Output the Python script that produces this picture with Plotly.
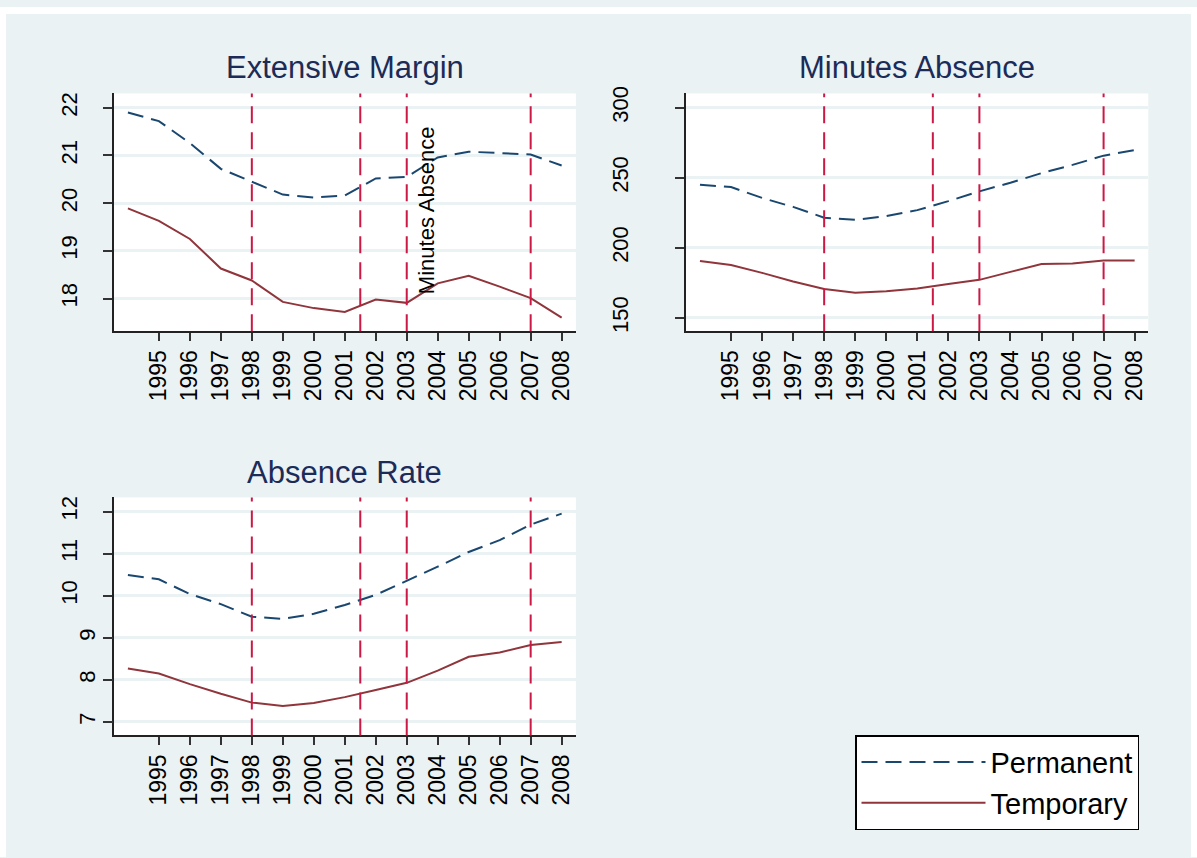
import plotly.graph_objects as go

years = list(range(1994, 2009))

ext_perm = [21.90, 21.72, 21.26, 20.72, 20.45, 20.18, 20.12, 20.16, 20.52, 20.55, 20.96, 21.08, 21.05, 21.02, 20.79]
ext_temp = [19.89, 19.63, 19.25, 18.63, 18.38, 17.93, 17.80, 17.72, 17.98, 17.91, 18.32, 18.48, 18.25, 18.01, 17.60]

min_perm = [245.0, 243.4, 235.6, 229.2, 221.5, 220.0, 222.6, 226.9, 233.3, 240.3, 246.5, 253.3, 259.2, 265.8, 269.8]
min_temp = [190.6, 187.7, 182.1, 175.9, 170.5, 167.9, 168.9, 171.0, 174.1, 177.1, 182.8, 188.4, 188.7, 191.0, 191.0]

rate_perm = [10.49, 10.39, 10.04, 9.80, 9.50, 9.45, 9.57, 9.78, 10.02, 10.35, 10.69, 11.04, 11.32, 11.69, 11.95]
rate_temp = [8.27, 8.15, 7.90, 7.67, 7.46, 7.38, 7.45, 7.59, 7.76, 7.93, 8.22, 8.55, 8.65, 8.83, 8.90]

event_years = [1998, 2001.5, 2003, 2007]
xtick_years = list(range(1995, 2009))
titles = ["Extensive Margin", "Minutes Absence", "Absence Rate"]
yticks = [[18, 19, 20, 21, 22], [150, 200, 250, 300], [7, 8, 9, 10, 11, 12]]
note_text = "Minutes Absence"
note_pos = (2003.62, 18.05)

BG = "#EAF2F3"
NAVY = "#1A476F"
MAROON = "#90353B"
RED = "#CC1844"
TITLE_C = "#1C2B57"
FONT = "Arial, Liberation Sans, sans-serif"
W, H = 1197, 858

fig = go.Figure()
# (x axis, y axis for Permanent, y axis for Temporary)
panels = [
    ("x", "y", "y", ext_perm, ext_temp),
    ("x2", "y2", "y2", min_perm, min_temp),
    ("x3", "y3", "y4", rate_perm, rate_temp),
]
for i, (xa, yp, yt, p, t) in enumerate(panels):
    fig.add_trace(go.Scatter(x=years, y=p, mode="lines", name="Permanent", xaxis=xa, yaxis=yp,
                             line=dict(color=NAVY, width=2, dash="16px,8px"),
                             showlegend=(i == 0), legendgroup="p"))
    fig.add_trace(go.Scatter(x=years, y=t, mode="lines", name="Temporary", xaxis=xa, yaxis=yt,
                             line=dict(color=MAROON, width=2),
                             showlegend=(i == 0), legendgroup="t"))

xdom1 = [113.65 / W, 575.9 / W]
xdom2 = [686.0 / W, 1148.3 / W]
ydom_top = [1 - 327.3 / H, 1 - 87.3 / H]
ydom_bot = [1 - 735.3 / H, 1 - 495.0 / H]
xranges = [[1993.54, 2008.46], [1993.55, 2008.44], [1993.54, 2008.46]]
yranges = [[17.315, 22.30], [140.4, 310.2], [6.68, 12.337]]
xdoms = [xdom1, xdom2, xdom1]
ydoms = [ydom_top, ydom_top, ydom_bot]
ystandoff = [17, 38, 17]

layout = dict(
    width=W, height=H,
    margin=dict(l=0, r=0, t=0, b=0),
    paper_bgcolor=BG, plot_bgcolor="white",
    font=dict(family=FONT, color="black"),
    showlegend=True,
    legend=dict(x=855 / W, y=1 - 735 / H, xanchor="left", yanchor="top",
                bgcolor="white", bordercolor="black", borderwidth=1.5,
                font=dict(size=29, family=FONT, color="black"),
                itemwidth=124, tracegroupgap=0),
)
for i in range(3):
    sfx = "" if i == 0 else str(i + 1)
    layout["xaxis" + sfx] = dict(
        domain=xdoms[i], range=xranges[i], anchor="y" + sfx,
        tickmode="array", tickvals=xtick_years, ticktext=[str(v) for v in xtick_years],
        tickangle=-90, ticks="outside", ticklen=8, tickwidth=1.5, tickcolor="#333333",
        showline=True, linecolor="#222222", linewidth=1.5,
        showgrid=False, zeroline=False,
        tickfont=dict(size=23, family=FONT, color="black"),
    )
    labels = [str(v) for v in yticks[i]]
    if i == 2:
        labels = [s if len(s) > 1 else "" for s in labels]
    layout["yaxis" + sfx] = dict(
        domain=ydoms[i], range=yranges[i], anchor="x" + sfx,
        tickmode="array", tickvals=yticks[i], ticktext=labels,
        tickangle=-90, ticks="outside", ticklen=9, tickwidth=1.5, tickcolor="#333333",
        showline=True, linecolor="#222222", linewidth=1.5,
        showgrid=True, gridcolor=BG, gridwidth=2.5, zeroline=False,
        ticklabelstandoff=ystandoff[i],
        tickfont=dict(size=22, family=FONT, color="black"),
    )
# single-digit labels of the Absence Rate panel sit closer to the axis
one_digit = [v for v in yticks[2] if len(str(v)) == 1]
layout["yaxis4"] = dict(
    overlaying="y3", anchor="x3", side="left", range=yranges[2],
    tickmode="array", tickvals=one_digit, ticktext=[str(v) for v in one_digit],
    tickangle=-90, ticks="outside", ticklen=9, tickwidth=1.5, tickcolor="#333333",
    showline=False, showgrid=False, zeroline=False, ticklabelstandoff=0,
    tickfont=dict(size=22, family=FONT, color="black"),
)
fig.update_layout(**layout)

shapes = []
for i in range(3):
    sfx = "" if i == 0 else str(i + 1)
    for ev in event_years:
        shapes.append(dict(type="line", xref="x" + sfx, yref="y" + sfx + " domain",
                           x0=ev, x1=ev, y0=0, y1=1,
                           line=dict(color=RED, width=2, dash="17px,9px")))
# white outer margins of the graph region
shapes.append(dict(type="rect", xref="paper", yref="paper", x0=0, x1=6 / W, y0=0, y1=1,
                   fillcolor="white", line=dict(width=0), layer="below"))
shapes.append(dict(type="rect", xref="paper", yref="paper", x0=0, x1=1, y0=1 - 7 / H, y1=1,
                   fillcolor="white", line=dict(width=0), layer="below"))
shapes.append(dict(type="rect", xref="paper", yref="paper", x0=1191 / W, x1=1, y0=0, y1=1,
                   fillcolor="white", line=dict(width=0), layer="below"))
fig.update_layout(shapes=shapes)

annotations = []
title_y = [1 - 61 / H, 1 - 61 / H, 1 - 470 / H]
for i in range(3):
    annotations.append(dict(text=titles[i], xref="paper", yref="paper",
                            x=(xdoms[i][0] + xdoms[i][1]) / 2, y=title_y[i],
                            xanchor="center", yanchor="middle", showarrow=False,
                            font=dict(size=31, family=FONT, color=TITLE_C)))
annotations.append(dict(text=note_text, xref="x", yref="y", x=note_pos[0], y=note_pos[1],
                        xanchor="center", yanchor="bottom", textangle=-90, showarrow=False,
                        font=dict(size=22, family=FONT, color="black")))
fig.update_layout(annotations=annotations)

fig.write_html("out.html", config={"displayModeBar": False},
               post_script="document.body.style.margin='0';document.body.style.overflow='hidden';")
